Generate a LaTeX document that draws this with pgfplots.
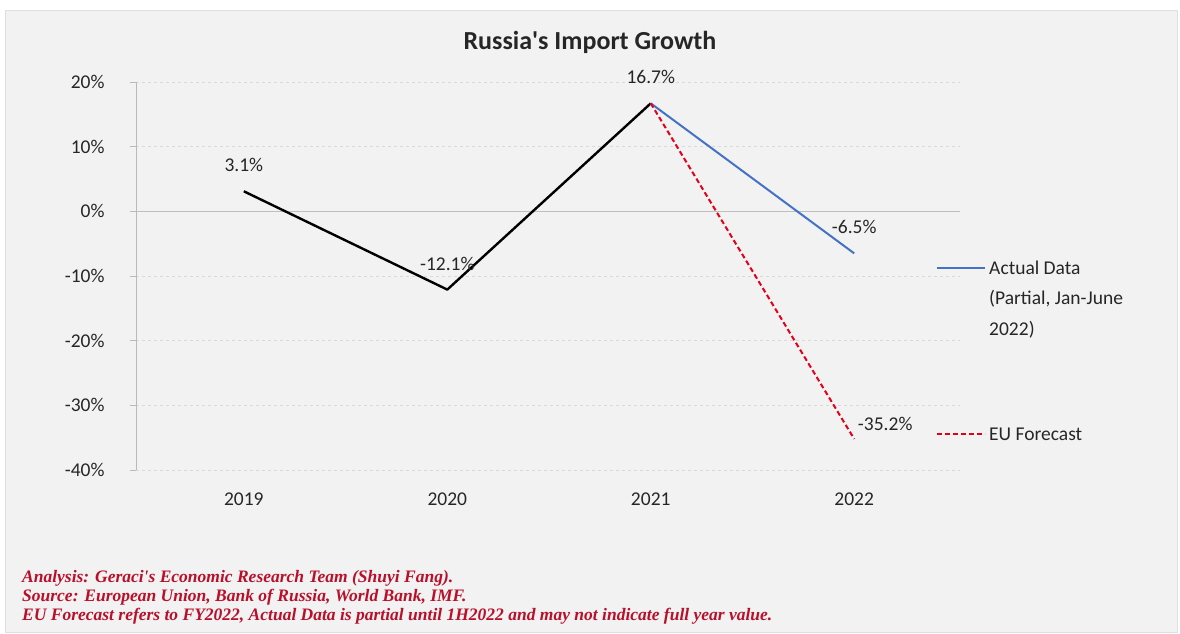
\documentclass[border=0pt]{standalone}
\usepackage{pgfplots}
\pgfplotsset{compat=1.18}
\usepackage{fontspec}
\setmainfont{Carlito}
\newfontfamily\plainfont{Carlito}
\newfontfamily\tnr{Liberation Serif}
\definecolor{bg}{HTML}{F2F2F2}
\definecolor{bluel}{HTML}{4472C4}
\definecolor{redl}{HTML}{E3001B}
\definecolor{foot}{HTML}{B8102A}
\definecolor{txt}{HTML}{262626}
\begin{document}
\begin{tikzpicture}[x=1pt,y=1pt]
\path[use as bounding box] (0,0) rectangle (1180,633);
\fill[white] (0,0) rectangle (1180,633);
\filldraw[fill=bg, draw=gray!25] (5,1) rectangle (1177,623);
\node[font=\plainfont\fontsize{26}{30}\selectfont\bfseries, text=txt] at (590,591) {Russia's Import Growth};
\begin{axis}[
  at={(136pt,163pt)}, anchor=south west,
  scale only axis, width=824pt, height=388pt,
  xmin=-0.53, xmax=3.52, ymin=-40, ymax=20,
  axis y line*=left, axis x line*=bottom,
  x axis line style={draw=none, -},
  y axis line style={draw=gray!55, line width=0.8pt, -},
  xtick={0,1,2,3}, xticklabels={2019,2020,2021,2022},
  xtick style={draw=none},
  ytick={-40,-30,-20,-10,0,10,20},
  yticklabels={-40\%,-30\%,-20\%,-10\%,0\%,10\%,20\%},
  ytick style={draw=gray!55, line width=0.8pt},
  major tick length=6pt, tick align=outside,
  ymajorgrids, major grid style={dashed, dash pattern=on 3pt off 3pt, gray!30, line width=0.8pt},
  ticklabel style={font=\fontsize{19.5}{23}\selectfont, text=txt},
  xticklabel style={yshift=-13pt},
  yticklabel style={xshift=-22pt},
  clip=false,
  nodes near coords,
  point meta=explicit symbolic,
  every node near coord/.style={font=\fontsize{19.5}{23}\selectfont, text=txt, anchor=center, yshift=26pt},
]
\draw[gray!50, line width=1pt] (axis cs:-0.53,0) -- (axis cs:3.52,0);
\addplot[black, line width=2.4pt, line join=round] coordinates {(0,3.1) [3.1\%] (1,-12.1) [-12.1\%] (2,16.7) [16.7\%]};
\addplot[bluel, line width=2pt] coordinates {(2,16.7) [] (3,-6.5) [-6.5\%]};
\addplot[redl, line width=2pt, dash pattern=on 5pt off 3pt, every node near coord/.style={font=\fontsize{19.5}{23}\selectfont, text=txt, anchor=center, xshift=31pt, yshift=15pt}] coordinates {(2,16.7) [] (3,-35.2) [-35.2\%]};
\end{axis}
% legend
\draw[bluel, line width=2pt] (937,365) -- (985,365);
\node[anchor=west, font=\fontsize{19.5}{23}\selectfont, text=txt, inner sep=0pt] at (989,365) {Actual Data};
\node[anchor=west, font=\fontsize{19.5}{23}\selectfont, text=txt, inner sep=0pt] at (989,334) {(Partial, Jan-June};
\node[anchor=west, font=\fontsize{19.5}{23}\selectfont, text=txt, inner sep=0pt] at (989,303) {2022)};
\draw[redl, line width=2pt, dash pattern=on 5pt off 3pt] (937,199) -- (985,199);
\node[anchor=west, font=\fontsize{19.5}{23}\selectfont, text=txt, inner sep=0pt] at (989,199) {EU Forecast};
% footnote
\node[anchor=west, font=\tnr\bfseries\itshape\fontsize{17.5}{19}\selectfont, text=foot, inner sep=0pt] at (22,55) {Analysis: Geraci's Economic Research Team (Shuyi Fang).};
\node[anchor=west, font=\tnr\bfseries\itshape\fontsize{17.5}{19}\selectfont, text=foot, inner sep=0pt] at (22,36) {Source: European Union, Bank of Russia, World Bank, IMF.};
\node[anchor=west, font=\tnr\bfseries\itshape\fontsize{17.5}{19}\selectfont, text=foot, inner sep=0pt] at (22,17) {EU Forecast refers to FY2022, Actual Data is partial until 1H2022 and may not indicate full year value.};
\end{tikzpicture}
\end{document}
